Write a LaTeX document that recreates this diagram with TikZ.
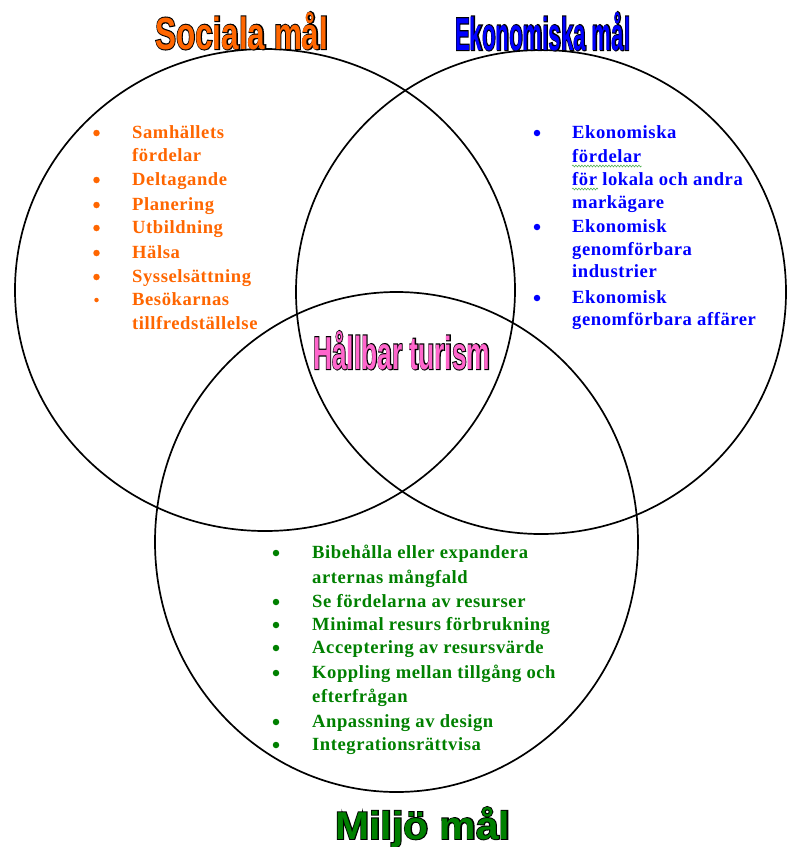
\documentclass[tikz,border=0pt]{standalone}
\usepackage{fontspec}
\setmainfont{Liberation Serif}
\newfontfamily\bodyfont{Liberation Serif Bold}[LetterSpace=3]
\newfontfamily\tfont{Liberation Sans Bold}
\newfontfamily\tfontO{Liberation Sans Bold}[FakeBold=5]
\usetikzlibrary{decorations.pathmorphing,calc}
\definecolor{orT}{HTML}{FF6600}
\definecolor{blT}{HTML}{0000FF}
\definecolor{grT}{HTML}{008000}
\definecolor{pkT}{HTML}{FF66CC}
\definecolor{squig}{HTML}{55B055}
\tikzset{
  ring/.style={draw=black, line width=1.7pt},
  item/.style={anchor=base west, inner sep=0pt, font=\bodyfont\fontsize{18.6}{21}\selectfont},
  bul/.style={circle, inner sep=0pt, minimum size=6.5pt, draw=none},
  wtitle/.style={anchor=base west, inner sep=0pt},
  squiggle/.style={draw=squig, line width=0.6pt, decorate, decoration={snake, amplitude=0.9pt, segment length=3pt}}
}
\begin{document}
\begin{tikzpicture}[x=1pt,y=-1pt]
\useasboundingbox (0,0) rectangle (787,847);
% circles
\draw[ring] (265,290) ellipse [x radius=250, y radius=241];
\draw[ring] (541,292) ellipse [x radius=245, y radius=242];
\draw[ring] (396.5,542) ellipse [x radius=241.5, y radius=250];
% titles
\node[wtitle, text=black] (socO) at (155,49) {\resizebox{173pt}{37pt}{\tfontO Sociala mål}};
\node[wtitle, text=orT] (soc) at (155,49) {\resizebox{173pt}{37pt}{\tfont Sociala mål}};
\node[wtitle, text=black] (ekoO) at (455,50) {\resizebox{175pt}{38pt}{\tfontO Ekonomiska mål}};
\node[wtitle, text=blT] (eko) at (455,50) {\resizebox{175pt}{38pt}{\tfont Ekonomiska mål}};
\node[wtitle, text=black] (hbO) at (313,369) {\resizebox{177pt}{38pt}{\tfontO Hållbar turism}};
\node[wtitle, text=pkT] (hb) at (313,369) {\resizebox{177pt}{38pt}{\tfont Hållbar turism}};
\node[wtitle, text=black] (milO) at (335,839) {\resizebox{175pt}{32pt}{\tfontO Miljö mål}};
\node[wtitle, text=grT] (mil) at (335,839) {\resizebox{175pt}{32pt}{\tfont Miljö mål}};
% social list
\foreach \yy/\txt [count=\i] in {138/Samhällets, 161/fördelar, 185/Deltagande, 210/Planering, 233/Utbildning, 258/Hälsa, 282/Sysselsättning, 305/Besökarnas, 329/tillfredställelse}
  \node[item, text=orT] (s\i) at (132,\yy) {\txt};
\foreach \yy [count=\i] in {138,185,210,233,258,282}
  \node[bul, fill=orT] (sb\i) at (96.5,\yy-5) {};
\node[bul, fill=orT, minimum size=4.5pt] (sb7) at (96.5,300) {};
% economic list
\foreach \yy/\txt [count=\i] in {138/Ekonomiska, 162/fördelar, 185/för lokala och andra, 208/markägare, 232/Ekonomisk, 255/genomförbara, 277/industrier, 303/Ekonomisk, 325/genomförbara affärer}
  \node[item, text=blT] (e\i) at (572,\yy) {\txt};
\foreach \yy [count=\i] in {138,232,303}
  \node[bul, fill=blT] (eb\i) at (537,\yy-5) {};
\coordinate (q1) at ($(e2.base west)+(0,4)$);
\coordinate (q2) at ($(e2.base east)+(0,4)$);
\coordinate (q3) at ($(e3.base west)+(0,4)$);
\coordinate (q4) at ($(e3.base west)+(26,4)$);
\draw[squiggle] (q1) -- (q2);
\draw[squiggle] (q3) -- (q4);
% environment list
\foreach \yy/\txt [count=\i] in {558/Bibehålla eller expandera, 583/arternas mångfald, 607/Se fördelarna av resurser, 630/Minimal resurs förbrukning, 653/Acceptering av resursvärde, 678/Koppling mellan tillgång och, 702/efterfrågan, 727/Anpassning av design, 750/Integrationsrättvisa}
  \node[item, text=grT] (m\i) at (312,\yy) {\txt};
\foreach \yy [count=\i] in {558,607,630,653,678,727,750}
  \node[bul, fill=grT] (mb\i) at (276,\yy-5) {};
\end{tikzpicture}
\end{document}
